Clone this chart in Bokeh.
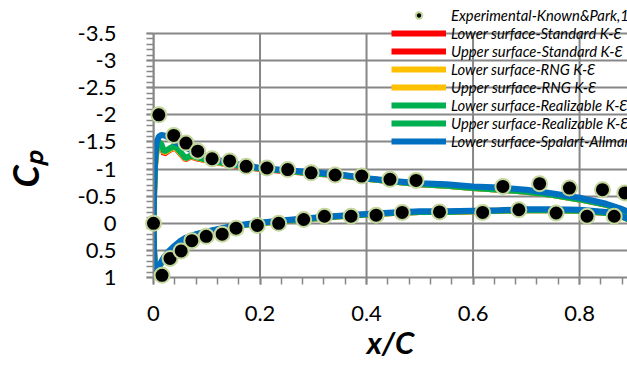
import numpy as np
from bokeh.plotting import figure
from bokeh.models import Range1d, FixedTicker, Legend, LegendItem, Title, LinearAxis
from bokeh.embed import file_html
from bokeh.resources import INLINE

# ---------------- data ----------------
# Experimental (Known & Park)
exp_x = [0.010, 0.038, 0.061, 0.083, 0.110, 0.143, 0.174, 0.213, 0.252, 0.296, 0.341, 0.391,
         0.444, 0.493, 0.656, 0.725, 0.781, 0.843, 0.885,
         0.0, 0.016, 0.031, 0.052, 0.072, 0.099, 0.129, 0.155, 0.195, 0.235, 0.282, 0.321,
         0.371, 0.418, 0.467, 0.537, 0.618, 0.686, 0.756, 0.814, 0.865]
exp_cp = [-2.00, -1.62, -1.48, -1.33, -1.19, -1.15, -1.05, -1.02, -0.99, -0.93, -0.89, -0.87,
          -0.81, -0.79, -0.68, -0.73, -0.65, -0.62, -0.56,
          0.00, 0.96, 0.65, 0.51, 0.32, 0.24, 0.20, 0.09, 0.04, 0.00, -0.07, -0.13,
          -0.13, -0.15, -0.20, -0.21, -0.20, -0.25, -0.19, -0.13, -0.13]

# CFD upper surface
xu = [0.0, 0.001, 0.003, 0.006, 0.01, 0.015, 0.02, 0.03, 0.04, 0.05, 0.06, 0.07, 0.08, 0.1,
      0.12, 0.15, 0.18, 0.2, 0.25, 0.3, 0.35, 0.4, 0.45, 0.5, 0.55, 0.6, 0.65, 0.7, 0.75,
      0.8, 0.85, 0.88, 0.9]
sa_upper = [0.0, -0.6, -1.2, -1.5, -1.6, -1.63, -1.62, -1.57, -1.5, -1.45, -1.4, -1.35, -1.3,
            -1.23, -1.17, -1.1, -1.06, -1.02, -0.98, -0.94, -0.9, -0.83, -0.78, -0.74, -0.72,
            -0.68, -0.66, -0.62, -0.55, -0.47, -0.36, -0.26, -0.18]
real_upper = [0.0, -0.5, -1.1, -1.4, -1.5, -1.45, -1.32, -1.38, -1.43, -1.32, -1.2, -1.25,
              -1.22, -1.17, -1.13, -1.08, -1.04, -1.01, -0.97, -0.92, -0.89, -0.82, -0.77,
              -0.72, -0.69, -0.65, -0.62, -0.58, -0.52, -0.44, -0.34, -0.25, -0.17]
rng_upper = [0.0, -0.5, -1.1, -1.38, -1.48, -1.43, -1.3, -1.36, -1.41, -1.3, -1.19, -1.24,
             -1.21, -1.16, -1.12, -1.08, -1.04, -1.01, -0.97, -0.92, -0.89, -0.82, -0.77,
             -0.72, -0.69, -0.65, -0.62, -0.58, -0.52, -0.44, -0.34, -0.25, -0.17]
ske_upper = [0.0, -0.5, -1.08, -1.37, -1.47, -1.42, -1.28, -1.35, -1.4, -1.29, -1.18, -1.23,
             -1.2, -1.16, -1.12, -1.07, -1.03, -1.0, -0.96, -0.92, -0.88, -0.82, -0.77,
             -0.72, -0.69, -0.65, -0.62, -0.58, -0.52, -0.44, -0.34, -0.25, -0.17]

# CFD lower surface
xl = [0.0, 0.001, 0.003, 0.006, 0.01, 0.015, 0.02, 0.03, 0.04, 0.05, 0.06, 0.08, 0.1, 0.12,
      0.15, 0.18, 0.2, 0.25, 0.3, 0.35, 0.4, 0.45, 0.5, 0.55, 0.6, 0.65, 0.7, 0.75, 0.8,
      0.85, 0.88, 0.9]
sa_lower = [0.0, 0.5, 0.95, 0.9, 0.8, 0.7, 0.62, 0.5, 0.41, 0.33, 0.27, 0.2, 0.15, 0.11,
            0.05, 0.01, -0.01, -0.06, -0.1, -0.14, -0.17, -0.2, -0.22, -0.22, -0.23, -0.24,
            -0.26, -0.26, -0.25, -0.21, -0.13, -0.05]
real_lower = [0.0, 0.5, 0.95, 0.92, 0.82, 0.72, 0.64, 0.52, 0.43, 0.35, 0.29, 0.21, 0.16,
              0.12, 0.06, 0.02, 0.0, -0.05, -0.09, -0.13, -0.16, -0.19, -0.21, -0.21, -0.22,
              -0.23, -0.24, -0.24, -0.23, -0.19, -0.12, -0.04]
rng_lower = real_lower
ske_lower = real_lower

x_ticks = [0, 0.2, 0.4, 0.6, 0.8]
x_labels = ["0", "0.2", "0.4", "0.6", "0.8"]
y_ticks = [-3.5, -3, -2.5, -2, -1.5, -1, -0.5, 0, 0.5, 1]
y_labels = ["-3.5", "-3", "-2.5", "-2", "-1.5", "-1", "-0.5", "0", "0.5", "1"]

legend_labels = ["Experimental-Known&Park,1984",
                 "Lower surface-Standard K-\u0190", "Upper surface-Standard K-\u0190",
                 "Lower surface-RNG K-\u0190", "Upper surface-RNG K-\u0190",
                 "Lower surface-Realizable K-\u0190", "Upper surface-Realizable K-\u0190",
                 "Lower surface-Spalart-Allmaras"]

# ---------------- figure ----------------
FONT = "Lato"
GRID = "#878787"

p = figure(width=627, height=367, x_range=Range1d(0, 0.890), y_range=Range1d(1, -4.109),
           output_backend="svg", toolbar_location=None,
           min_border_left=153, min_border_right=0, min_border_top=0, min_border_bottom=90)
p.outline_line_color = None
p.background_fill_color = "white"
p.border_fill_color = "white"

p.xaxis.ticker = FixedTicker(ticks=x_ticks, minor_ticks=list(np.round(np.arange(0, 0.9, 0.04), 3)))
p.yaxis.ticker = FixedTicker(ticks=y_ticks, minor_ticks=list(np.round(np.arange(-3.5, 1.01, 0.1), 2)))
p.xaxis.major_label_overrides = dict(zip(x_ticks, x_labels))
p.yaxis.major_label_overrides = dict(zip(y_ticks, y_labels))
p.yaxis.bounds = (y_ticks[0], y_ticks[-1])

for ax in (p.xaxis, p.yaxis):
    ax.axis_line_color = GRID
    ax.axis_line_width = 2
    ax.major_tick_line_color = GRID
    ax.major_tick_line_width = 2
    ax.minor_tick_line_color = GRID
    ax.minor_tick_line_width = 1.5
    ax.major_tick_in = 0
    ax.major_tick_out = 7
    ax.minor_tick_in = 0
    ax.minor_tick_out = 7
    ax.major_label_text_font = FONT
    ax.major_label_text_font_size = "22px"
    ax.major_label_text_color = "black"
    ax.axis_label_text_font = FONT
    ax.axis_label_text_font_style = "bold italic"
    ax.axis_label_text_color = "black"
p.yaxis.major_label_standoff = 30
p.xaxis.major_label_standoff = 21

p.xaxis.axis_label = "x/C"
p.xaxis.axis_label_text_font_size = "31px"
p.xaxis.axis_label_standoff = -1

# spacer axis: a single white tick at the bottom of the axis and an empty label,
# only to push the y title outward
spacer = LinearAxis(ticker=FixedTicker(ticks=[y_ticks[-1]]), axis_line_color=None,
                    major_tick_line_color="white", minor_tick_line_color=None,
                    major_tick_in=0, major_tick_out=28, minor_tick_in=0, minor_tick_out=0,
                    major_label_overrides={y_ticks[-1]: ""}, major_label_standoff=0,
                    major_label_text_font_size="1px")
p.add_layout(spacer, "left")

# y-axis title placed in the left panel, shifted along the axis
ytitle = Title(text="C\u209a", align="left", offset=90, text_font=FONT,
               text_font_style="bold italic", text_font_size="36px", text_color="black",
               standoff=0)
p.add_layout(ytitle, "left")

# grid: horizontal via Grid, vertical stopping at the top tick
p.xgrid.visible = False
p.ygrid.grid_line_color = GRID
p.ygrid.grid_line_width = 2
n = len(x_ticks)
p.segment(x0=x_ticks, y0=[y_ticks[-1]] * n, x1=x_ticks, y1=[y_ticks[0]] * n,
          line_color=GRID, line_width=2, level="underlay")

LW = 6
r_ske_l = p.line(xl, ske_lower, line_color="#ff0000", line_width=LW)
r_ske_u = p.line(xu, ske_upper, line_color="#ff0000", line_width=LW)
r_rng_l = p.line(xl, rng_lower, line_color="#ffc000", line_width=LW)
r_rng_u = p.line(xu, rng_upper, line_color="#ffc000", line_width=LW)
r_real_l = p.line(xl, real_lower, line_color="#00b050", line_width=LW)
r_real_u = p.line(xu, real_upper, line_color="#00b050", line_width=LW)
r_sa_l = p.line(xl, sa_lower, line_color="#0070c0", line_width=LW)
r_sa_u = p.line(xu, sa_upper, line_color="#0070c0", line_width=LW)
r_exp = p.scatter(exp_x, exp_cp, size=15, fill_color="black", line_color="#c3d69b",
                  line_width=2, level="overlay")

renderers = [r_exp, r_ske_l, r_ske_u, r_rng_l, r_rng_u, r_real_l, r_real_u, r_sa_l]
legend = Legend(items=[LegendItem(label=l, renderers=[r]) for l, r in zip(legend_labels, renderers)],
                location=(238, 127.5), glyph_width=55, glyph_height=16, label_height=16,
                spacing=0, padding=0, margin=0, label_standoff=5,
                background_fill_alpha=0, border_line_color=None,
                label_text_font=FONT, label_text_font_style="italic",
                label_text_font_size="14.8px", label_text_color="black")
p.add_layout(legend)

open("out.html", "w").write(file_html(p, INLINE))
